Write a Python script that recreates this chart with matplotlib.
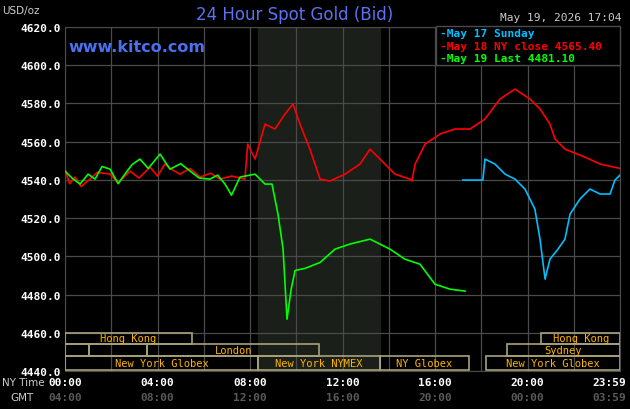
import matplotlib
matplotlib.use("Agg")
import matplotlib.pyplot as plt
from matplotlib.patches import Rectangle

red_h = [0.0, 0.2, 0.43, 0.7, 1.08, 1.4, 1.95, 2.3, 2.81, 3.2, 3.68, 4.0, 4.32, 4.6, 4.97, 5.4, 5.84, 6.3, 6.70, 7.2, 7.78, 7.90, 8.22, 8.65, 9.08, 9.51, 9.86, 10.16, 10.59, 11.03, 11.46, 12.11, 12.76, 13.19, 13.62, 14.27, 14.92, 15.0, 15.14, 15.57, 16.22, 16.86, 17.51, 18.16, 18.81, 19.46, 20.11, 20.54, 20.97, 21.19, 21.62, 22.49, 23.14, 24.0]
red_p = [4545.6, 4538.0, 4541.5, 4536.5, 4540.4, 4544.0, 4543.0, 4538.5, 4544.6, 4541.0, 4546.7, 4542.0, 4548.3, 4545.5, 4543.0, 4546.0, 4541.5, 4543.5, 4540.4, 4542.0, 4540.4, 4558.7, 4550.9, 4569.2, 4566.6, 4574.4, 4579.7, 4569.2, 4556.1, 4540.4, 4539.4, 4543.0, 4548.3, 4556.1, 4550.9, 4543.0, 4540.4, 4539.4, 4548.3, 4558.7, 4564.0, 4566.6, 4566.6, 4571.8, 4582.3, 4587.5, 4582.3, 4577.1, 4569.2, 4561.4, 4556.1, 4551.9, 4548.3, 4546.0]

green_h = [0.0, 0.3, 0.65, 1.0, 1.30, 1.6, 1.95, 2.3, 2.59, 2.9, 3.24, 3.6, 4.11, 4.54, 5.0, 5.41, 5.8, 6.27, 6.6, 6.92, 7.2, 7.57, 8.22, 8.65, 8.95, 9.21, 9.43, 9.60, 9.78, 9.95, 10.38, 11.03, 11.68, 12.32, 13.19, 14.05, 14.70, 15.35, 16.00, 16.65, 17.30]
green_p = [4544.6, 4541.0, 4537.8, 4543.0, 4540.4, 4547.0, 4545.6, 4538.0, 4543.0, 4548.0, 4550.9, 4546.0, 4553.5, 4545.6, 4548.5, 4544.6, 4541.0, 4540.4, 4542.5, 4537.8, 4532.0, 4541.5, 4543.0, 4537.8, 4537.8, 4522.1, 4503.8, 4467.1, 4482.8, 4492.6, 4493.7, 4496.8, 4503.8, 4506.4, 4509.0, 4503.8, 4498.5, 4495.9, 4485.4, 4482.8, 4481.8]

blue_h = [17.21, 18.07, 18.16, 18.59, 19.03, 19.46, 19.89, 20.32, 20.54, 20.76, 20.97, 21.32, 21.62, 21.84, 22.27, 22.70, 23.14, 23.57, 23.78, 24.0]
blue_p = [4539.9, 4539.9, 4550.9, 4548.3, 4543.0, 4540.4, 4535.2, 4524.7, 4509.0, 4488.1, 4498.5, 4503.8, 4509.0, 4522.1, 4530.0, 4535.2, 4532.6, 4532.6, 4539.9, 4542.5]

yticks = [4440, 4460, 4480, 4500, 4520, 4540, 4560, 4580, 4600, 4620]
ny_labels = ["00:00", "04:00", "08:00", "12:00", "16:00", "20:00", "23:59"]
gmt_labels = ["04:00", "08:00", "12:00", "16:00", "20:00", "00:00", "03:59"]
tick_hours = [0, 4, 8, 12, 16, 20, 24]

sessions = [
    (0, 0.0, 5.5, "Hong Kong"), (0, 20.6, 24.0, "Hong Kong"),
    (1, 0.0, 1.04, ""), (1, 1.04, 3.55, ""), (1, 3.55, 11.0, "London"), (1, 19.1, 24.0, "Sydney"),
    (2, 0.0, 8.35, "New York Globex"), (2, 8.35, 13.6, "New York NYMEX"),
    (2, 13.6, 17.45, "NY Globex"), (2, 18.2, 24.0, "New York Globex"),
]

W, H = 630, 410
fig = plt.figure(figsize=(6.3, 4.1), dpi=100, facecolor="black")
ax = fig.add_axes([65/W, 1-372/H, 555/W, 344/H])
ax.set_facecolor("black")
ax.set_xlim(0, 24)
ax.set_ylim(4440, 4620)
ax.axvspan(8.35, 13.6, color="#1b1f19", zorder=0)
for h in range(0, 25, 2):
    ax.axvline(h, color="#4a4a4a", lw=0.9, zorder=1)
for y in yticks:
    ax.axhline(y, color="#4a4a4a", lw=0.9, zorder=1)
for s in ax.spines.values():
    s.set_color("#4a4a4a")

ax.plot(red_h, red_p, color="#ff0000", lw=1.2, zorder=3)
ax.plot(green_h, green_p, color="#00ff00", lw=1.2, zorder=3)
ax.plot(blue_h, blue_p, color="#00bfff", lw=1.2, zorder=3)

mono = "DejaVu Sans Mono"
rows = [(4454.3, 4460), (4447.6, 4454.3), (4440.4, 4447.6)]
for r, a, b, lab in sessions:
    y0, y1 = rows[r]
    ax.add_patch(Rectangle((a, y0), b-a, y1-y0, fill=False, ec="#a8a27a", lw=1.2, zorder=4))
    if lab:
        ax.text((a+b)/2, (y0+y1)/2, lab, color="#ffb400", fontsize=7.5, family=mono,
                ha="center", va="center", zorder=5)

ax.set_yticks(yticks)
ax.set_yticklabels([f"{v:.1f}" for v in yticks], color="white", fontsize=8, family=mono, fontweight="bold")
ax.set_xticks([])
ax.tick_params(axis="y", length=0, pad=3)

for h, a, g in zip(tick_hours, ny_labels, gmt_labels):
    x = (65 + h*555/24) / W
    ha = "center"
    if h == 24:
        x, ha = 626/W, "right"
    fig.text(x, 1-383/H, a, color="white", fontsize=8, family=mono, fontweight="bold", ha=ha, va="center")
    fig.text(x, 1-398/H, g, color="#5a5a5a", fontsize=8, family=mono, fontweight="bold", ha=ha, va="center")
fig.text(2/W, 1-383/H, "NY Time", color="#cccccc", fontsize=7.5, ha="left", va="center")
fig.text(10/W, 1-398/H, "GMT", color="#cccccc", fontsize=7.5, ha="left", va="center")

fig.text(2/W, 1-11/H, "USD/oz", color="#cccccc", fontsize=7.5, ha="left", va="center")
fig.text(295/W, 1-15/H, "24 Hour Spot Gold (Bid)", color="#5b72f0", fontsize=12, ha="center", va="center")
fig.text(68/W, 1-48/H, "www.kitco.com", color="#4a70f0", fontsize=11.5, fontweight="bold", ha="left", va="center")
fig.text(622/W, 1-18/H, "May 19, 2026 17:04", color="#cccccc", fontsize=8, family=mono, ha="right", va="center")

fig.patches.append(Rectangle((436/W, 1-66/H), 184/W, 39/H, transform=fig.transFigure,
                             fc="black", ec="#4a4a4a", lw=1, zorder=5))
legend = [("May 17 Sunday", "#00bfff"), ("May 18 NY close 4565.40", "#ff0000"), ("May 19 Last 4481.10", "#00ff00")]
for i, (t, c) in enumerate(legend):
    fig.text(440/W, 1-(34+12.5*i)/H, "-" + t, color=c, fontsize=8, family=mono, fontweight="bold",
             ha="left", va="center", zorder=6)

fig.savefig("out.png", dpi=100, facecolor="black")
